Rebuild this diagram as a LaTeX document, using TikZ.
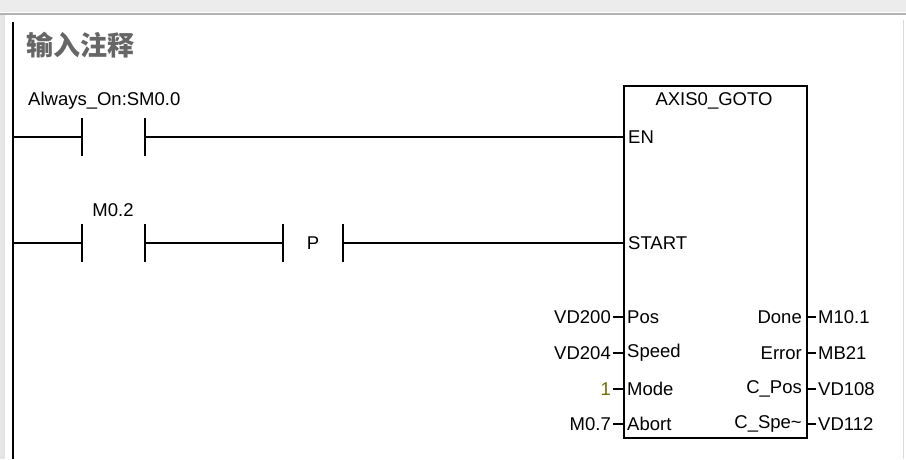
\documentclass[tikz,border=0pt]{standalone}
\usepackage{fontspec}
\setmainfont{Liberation Sans}
\newfontfamily\cjk{Noto Sans CJK SC}
\begin{document}
\begin{tikzpicture}[x=1pt,y=-1pt,
  wire/.style={line width=2.2pt},
  lbl/.style={font=\fontsize{18.5}{18.5}\selectfont,inner sep=1pt}]
\useasboundingbox (0,0) rectangle (906,459);
\fill[white] (0,0) rectangle (906,459);
\fill[gray!15] (0,0) rectangle (906,12);
\draw[gray!60,line width=2pt] (0,14) -- (906,14);
\fill[gray!20] (0,15) rectangle (5,459);
\draw[gray!30,line width=1pt] (903,20) -- (903,459);
\draw[line width=2pt] (13,22) -- (13,459);
\node[anchor=west,text=gray!80!black,font=\cjk\fontsize{27}{27}\selectfont\bfseries] (title) at (23,45) {输入注释};
% rung 1
\coordinate (r1) at (13,137);
\coordinate (c1a) at (82,137); \coordinate (c1b) at (145,137);
\node[lbl,anchor=west] (l1) at (27,101) {Always\_On:SM0.0};
% box
\node[draw,line width=2.2pt,minimum width=183pt,minimum height=352pt,anchor=north west,inner sep=0] (box) at (623,85) {};
\node[lbl] (bt) at (714,101) {AXIS0\_GOTO};
\coordinate (en) at (623,137); \coordinate (st) at (623,243);
\node[lbl,anchor=west] (ent) at (627,137) {EN};
\node[lbl,anchor=west] (stt) at (627,243) {START};
\draw[wire] (r1) -- (c1a) (c1b) -- (en);
\draw[wire] (82,118) -- (82,156) (145,118) -- (145,156);
% rung 2
\coordinate (r2) at (13,243);
\node[lbl] (l2) at (113,210) {M0.2};
\draw[wire] (r2) -- (82,243) (145,243) -- (283,243) (343,243) -- (st);
\draw[wire] (82,224) -- (82,262) (145,224) -- (145,262) (283,224) -- (283,262) (343,224) -- (343,262);
\node[lbl] (p) at (313,243) {P};
% params
\foreach \y/\inp/\pin/\pout/\outp [count=\i] in {317/VD200/Pos/Done/M10.1,353/VD204/Speed/Error/MB21,389/1/Mode/C\_Pos/VD108,424/M0.7/Abort/C\_Spe\textasciitilde/VD112}{
  \draw[wire] (613,\y) -- (623,\y) (806,\y) -- (816,\y);
  \node[lbl,anchor=west] (pi\i) at (626,\y) {\pin};
  \node[lbl,anchor=east] (po\i) at (803,\y) {\pout};
  \node[lbl,anchor=west] (oo\i) at (817,\y) {\outp};
}
\node[lbl,anchor=east] (ii1) at (612,317) {VD200};
\node[lbl,anchor=east] (ii2) at (612,353) {VD204};
\node[lbl,anchor=east,text={rgb,255:red,110;green,110;blue,0}] (ii3) at (612,389) {1};
\node[lbl,anchor=east] (ii4) at (612,424) {M0.7};
\end{tikzpicture}
\end{document}
